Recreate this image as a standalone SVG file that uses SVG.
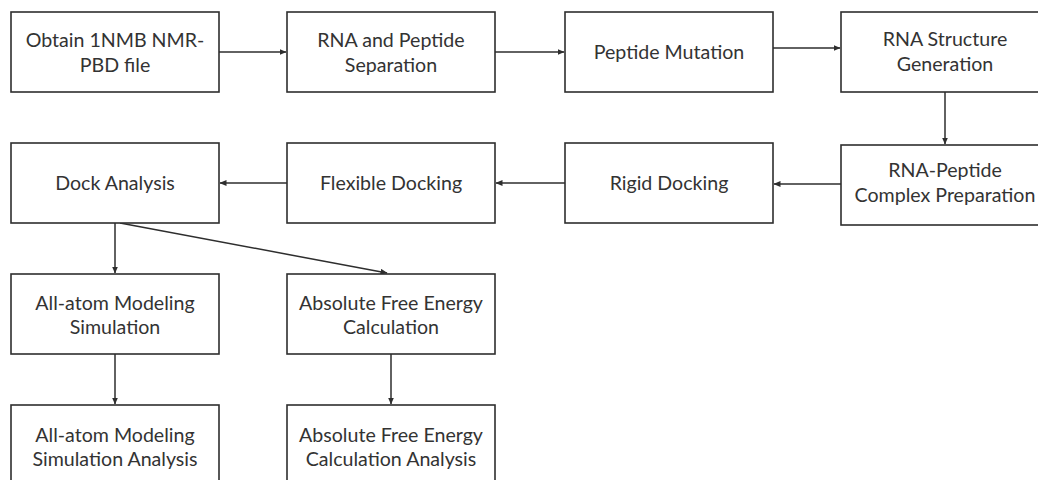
<svg xmlns="http://www.w3.org/2000/svg" width="1038" height="480" viewBox="0 0 1038 480">
<defs>
<style>
.box{fill:#fff;stroke:#2e2e2e;stroke-width:1.6}
.t{font-family:Lato,"Liberation Sans",sans-serif;font-size:19.6px;fill:#333;text-anchor:middle}
.c{stroke:#2e2e2e;stroke-width:1.5;fill:none;marker-end:url(#ah)}
</style>
<marker id="ah" markerWidth="7" markerHeight="6" refX="6.5" refY="3" orient="auto" markerUnits="userSpaceOnUse">
<path d="M0,0 L7,3 L0,6 Z" fill="#2e2e2e"/>
</marker>
</defs>
<rect width="1038" height="480" fill="#fff"/>
<g id="connectors">
<line class="c" x1="219" y1="52" x2="286" y2="52"/>
<line class="c" x1="495" y1="52" x2="564" y2="52"/>
<line class="c" x1="773" y1="48" x2="840" y2="48"/>
<line class="c" x1="945" y1="92" x2="945" y2="144"/>
<line class="c" x1="841" y1="184" x2="774" y2="184"/>
<line class="c" x1="565" y1="183" x2="496" y2="183"/>
<line class="c" x1="287" y1="183" x2="220" y2="183"/>
<line class="c" x1="115" y1="223" x2="115" y2="273"/>
<line class="c" x1="120" y1="223" x2="387" y2="273"/>
<line class="c" x1="115" y1="354" x2="115" y2="404"/>
<line class="c" x1="391" y1="354" x2="391" y2="404"/>
</g>
<g id="obtain"><rect class="box" x="11" y="12" width="208" height="80"/><text class="t" x="115" y="47">Obtain 1NMB NMR-</text><text class="t" x="115" y="72">PBD file</text></g>
<g id="separation"><rect class="box" x="287" y="12" width="208" height="80"/><text class="t" x="391" y="47">RNA and Peptide</text><text class="t" x="391" y="72">Separation</text></g>
<g id="mutation"><rect class="box" x="565" y="12" width="208" height="80"/><text class="t" x="669" y="59">Peptide Mutation</text></g>
<g id="structure"><rect class="box" x="841" y="12" width="208" height="80"/><text class="t" x="945" y="46">RNA Structure</text><text class="t" x="945" y="71">Generation</text></g>
<g id="complex"><rect class="box" x="841" y="145" width="208" height="80"/><text class="t" x="945" y="177">RNA-Peptide</text><text class="t" x="945" y="202">Complex Preparation</text></g>
<g id="rigid"><rect class="box" x="565" y="143" width="208" height="80"/><text class="t" x="669" y="190">Rigid Docking</text></g>
<g id="flexible"><rect class="box" x="287" y="143" width="208" height="80"/><text class="t" x="391" y="190">Flexible Docking</text></g>
<g id="dock"><rect class="box" x="11" y="143" width="208" height="80"/><text class="t" x="115" y="190">Dock Analysis</text></g>
<g id="allatom"><rect class="box" x="11" y="274" width="208" height="80"/><text class="t" x="115" y="310">All-atom Modeling</text><text class="t" x="115" y="334">Simulation</text></g>
<g id="free"><rect class="box" x="287" y="274" width="208" height="80"/><text class="t" x="391" y="310">Absolute Free Energy</text><text class="t" x="391" y="334">Calculation</text></g>
<g id="allatom-analysis"><rect class="box" x="11" y="405" width="208" height="80"/><text class="t" x="115" y="442">All-atom Modeling</text><text class="t" x="115" y="466">Simulation Analysis</text></g>
<g id="free-analysis"><rect class="box" x="287" y="405" width="208" height="80"/><text class="t" x="391" y="442">Absolute Free Energy</text><text class="t" x="391" y="466">Calculation Analysis</text></g>
</svg>
